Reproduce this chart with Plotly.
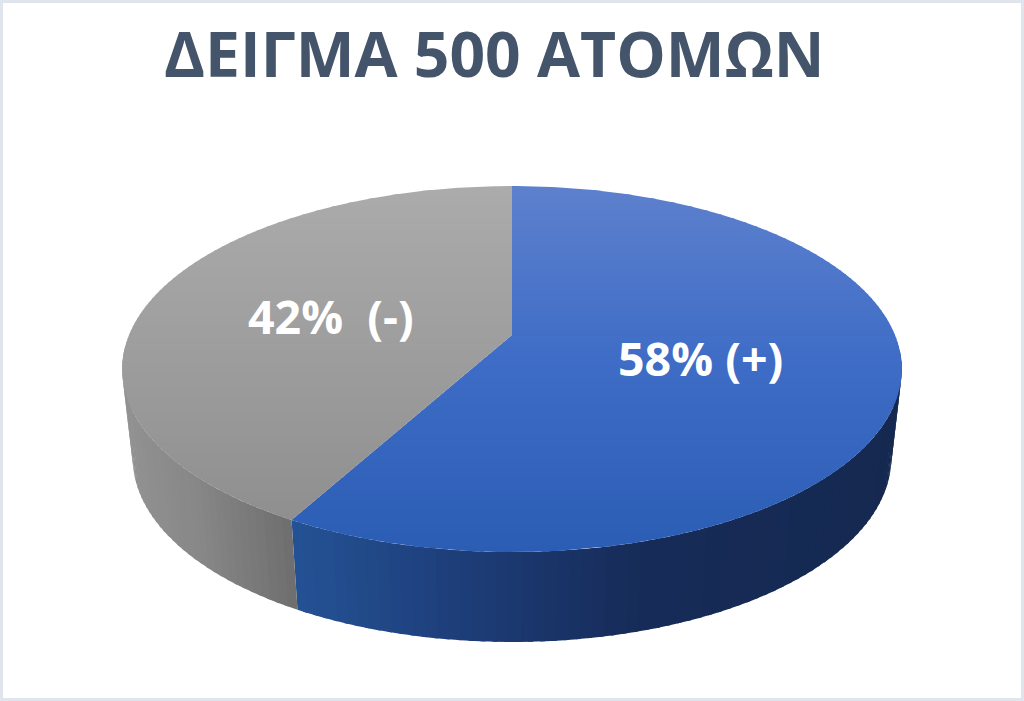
import numpy as np
import plotly.graph_objects as go

# Data
categories = ["(+)", "(-)"]
values = [58, 42]
slice_labels = ["58% (+)", "42%  (-)"]
title_text = "ΔΕΙΓΜΑ 500 ΑΤΟΜΩΝ"

# Style / layout
W, H = 1024, 701
CX, APEX_Y = 512.0, 335.0
A, B, K = 383.0, 176.7, 0.186
TOP_STOPS = [
    [(186, (93, 128, 205)), (360, (62, 108, 198)), (552, (43, 93, 180))],
    [(186, (171, 171, 171)), (320, (160, 160, 160)), (552, (140, 140, 140))],
]
TOP_Y = (186.0, 552.0)
LABEL_POS = [(700, 358), (331, 316)]


def project(theta):
    u, v = np.sin(theta), -np.cos(theta)
    d = 1 - K * v
    return CX + A * u / d, APEX_Y + B * v / d


def lower(x, y):
    return CX + (x - CX) * 0.973, 458 + (y - 369) * 1.005


def rgb(c):
    return "rgb(%d,%d,%d)" % tuple(int(round(i)) for i in c)


def ramp(stops, x):
    xs = [s[0] for s in stops]
    return [np.interp(x, xs, [s[1][i] for s in stops]) for i in range(3)]


def clip_half(pts, ylim, keep_below):
    out = []
    n = len(pts)
    for i in range(n):
        p, q = pts[i], pts[(i + 1) % n]
        ip = (p[1] >= ylim) if keep_below else (p[1] <= ylim)
        iq = (q[1] >= ylim) if keep_below else (q[1] <= ylim)
        if ip:
            out.append(p)
        if ip != iq:
            t = (ylim - p[1]) / (q[1] - p[1])
            out.append((p[0] + (q[0] - p[0]) * t, ylim))
    return out


def poly(x, y, color):
    return go.Scatter(x=list(x) + [x[0]], y=list(y) + [y[0]], mode="lines", fill="toself",
                      fillcolor=color, line=dict(width=0, color=color),
                      hoverinfo="skip", showlegend=False)


WALL_STOPS = [
    [(292, (36, 82, 148)), (450, (30, 62, 122)), (640, (22, 43, 88)), (900, (21, 41, 80))],
    [(122, (146, 146, 146)), (200, (134, 134, 134)), (297, (108, 108, 108))],
]

fracs = np.cumsum([0] + values) / sum(values)
edges = 2 * np.pi * fracs
fig = go.Figure()

# Side wall
wall_limits = [(np.radians(95), edges[1]), (edges[1], np.radians(266))]
for kind, (a0, a1) in enumerate(wall_limits):
    steps = int(np.degrees(a1 - a0) / 1.5) + 1
    th = np.linspace(a0, a1, steps + 1)
    for i in range(steps):
        t0, t1 = th[i], min(th[i] + (th[1] - th[0]) * 1.4, a1)
        tt = np.linspace(t0, t1, 4)
        xt, yt = project(tt)
        xb, yb = lower(xt, yt)
        c = ramp(WALL_STOPS[kind], (xt[0] + xt[-1]) / 2)
        fig.add_trace(poly(np.r_[xt, xb[::-1]], np.r_[yt, yb[::-1]], rgb(c)))

# Top face, with a vertical gradient drawn in bands
for k in range(len(values)):
    tt = np.linspace(edges[k], edges[k + 1], 240)
    xs, ys = project(tt)
    pts = [(CX, APEX_Y)] + list(zip(xs, ys))
    yb = np.arange(TOP_Y[0], TOP_Y[1], 4.0)
    for y0 in yb:
        band = clip_half(pts, y0, True)
        if len(band) >= 3:
            band = clip_half(band, y0 + 5.0, False)
        if len(band) < 3:
            continue
        c = ramp(TOP_STOPS[k], y0)
        fig.add_trace(poly([p[0] for p in band], [p[1] for p in band], rgb(c)))

annotations = [dict(x=LABEL_POS[i][0], y=LABEL_POS[i][1], text=slice_labels[i], showarrow=False,
                    font=dict(family="Open Sans", size=46.5, color="white", weight=700),
                    xanchor="center", yanchor="middle") for i in range(len(values))]
annotations.append(dict(x=494, y=52, text=title_text, showarrow=False,
                        font=dict(family="Open Sans", size=62.4, color="#44546a", weight=700),
                        xanchor="center", yanchor="middle"))

fig.update_layout(
    width=W, height=H, margin=dict(l=0, r=0, t=0, b=0),
    paper_bgcolor="#e0e5ed", plot_bgcolor="rgba(0,0,0,0)", showlegend=False,
    xaxis=dict(range=[0, W], visible=False, fixedrange=True),
    yaxis=dict(range=[H, 0], visible=False, fixedrange=True),
    annotations=annotations,
    shapes=[dict(type="rect", x0=3, x1=W - 3, y0=3, y1=H - 3, fillcolor="white",
                 line=dict(width=0), layer="below")],
)
fig.write_html("out.html", config=dict(displayModeBar=False),
               post_script="document.body.style.margin='0';document.body.style.overflow='hidden';")
